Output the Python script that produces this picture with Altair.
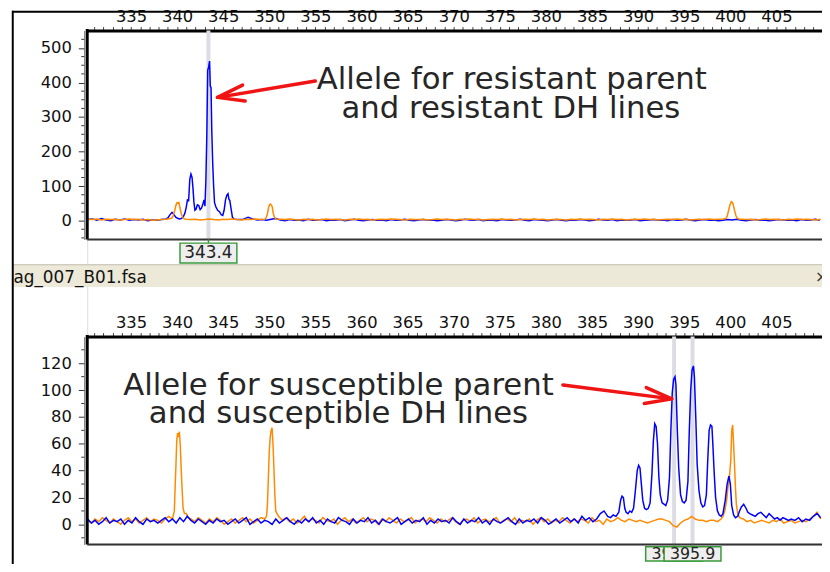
import altair as alt
import pandas as pd

FONT = "DejaVu Sans"

# ---------------- axis / tick data ----------------
X_DOMAIN = [330.253, 409.94]
TOP_Y_DOMAIN = [-54.5, 550.6]
BOT_Y_DOMAIN = [-14.97, 139.9]

x_major_labels = [335, 340, 345, 350, 355, 360, 365, 370, 375, 380, 385, 390, 395, 400, 405]
x_tick_values = list(range(331, 410))
top_y_major = [0, 100, 200, 300, 400, 500]
top_y_minor = [-50, -25, 25, 50, 75, 125, 150, 175, 225, 250, 275, 325, 350, 375, 425, 450, 475, 525]
bot_y_major = [0, 20, 40, 60, 80, 100, 120]
bot_y_minor = [-10, 10, 30, 50, 70, 90, 110, 130]

top_markers = [343.4]
top_marker_labels = ["343.4"]
bot_markers = [393.9, 395.9]
bot_marker_labels = ["393.9", "395.9"]

file_label = "ag_007_B01.fsa"

# ---------------- trace data ----------------
# top panel, blue dye
top_blue_base_a = [3, 5, 1, 6, 2, 0, 4, 2, 5, 1, 3, 2, 4, 0, 2, 1, 3, 5]          # 330.3 .. step 0.5
top_blue_peak_x = [339.0, 339.2, 339.45, 339.65, 339.85, 340.05, 340.25, 340.45, 340.65, 340.85,
                   341.0, 341.12, 341.25, 341.38, 341.5, 341.62, 341.72, 341.82, 341.93, 342.05,
                   342.2, 342.35, 342.5, 342.65, 342.8, 342.92, 343.02, 343.12, 343.22, 343.32,
                   343.42, 343.52, 343.6, 343.68, 343.76, 343.86, 343.96, 344.06, 344.2, 344.4,
                   344.6, 344.78, 344.95, 345.1, 345.25, 345.4, 345.52, 345.62, 345.72, 345.85,
                   346.0, 346.2]
top_blue_peak_y = [8, 16, 24, 18, 10, 7, 5, 6, 10, 22,
                   40, 60, 58, 120, 135, 125, 95, 55, 30, 33,
                   46, 44, 32, 36, 48, 60, 42, 115, 242, 435,
                   445, 462, 390, 385, 262, 167, 100, 52, 40, 30,
                   26, 17, 15, 30, 60, 74, 78, 62, 58, 35,
                   10, 4]
top_blue_base_b = [3, 4, 10, 5, 2, 3, 1, 4, 6, 2,
                   0, 3, 1, 2, 0, 4, 1, 2, 3, 0,
                   2, 1, 3, 0, 2, 4, 1, 0, 2, 3,
                   1, 2, 0, 3, 1, 2, 4, 1, 0, 2,
                   3, 1, 2, 0, 1, 3, 2, 0, 1, 4,
                   2, 1, 3, 0, 2, 1, 0, 3, 2, 1,
                   2, 4, 1, 0, 3, 2, 1, 0, 2, 3,
                   1, 0, 2, 1, 3, 2, 0, 1, 4, 2,
                   1, 3, 0, 2, 1, 2, 3, 0, 1, 2,
                   3, 1, 2, 0, 3, 1, 2, 4, 1, 0,
                   2, 3, 1, 2, 0, 1, 3, 2, 4, 1,
                   0, 2, 3, 1, 2, 0, 1, 3, 2, 1,
                   2, 0, 3, 1, 2, 4, 1]                                         # 346.7 .. step 0.5

# top panel, orange dye
top_orange_base_a = [4, 3, 5, 2, 4, 3, 4, 2, 3, 5, 3, 4, 2, 3, 1, 2, 3, 4, 6]     # 330.3 .. step 0.5
top_orange_p1_x = [339.45, 339.6, 339.75, 339.88, 340.0, 340.1, 340.2, 340.3, 340.45, 340.6, 340.75, 340.9]
top_orange_p1_y = [8, 15, 30, 45, 52, 50, 52, 38, 20, 10, 6, 4]
top_orange_base_b = [3, 4, 2, 3, 5, 3, 2, 4, 3, 5, 3, 2, 4, 3, 5, 3, 4]           # 341.5 .. step 0.5
top_orange_p2_x = [349.65, 349.8, 349.92, 350.02, 350.12, 350.22, 350.32, 350.42, 350.55, 350.7]
top_orange_p2_y = [8, 20, 38, 46, 48, 45, 40, 22, 10, 5]
top_orange_base_c = [4, 3, 5, 3, 2, 4, 3, 4, 2, 3,
                     5, 3, 4, 3, 2, 4, 3, 5, 3, 4,
                     2, 3, 4, 3, 5, 4, 3, 2, 4, 3,
                     3, 4, 2, 3, 5, 3, 4, 3, 2, 4,
                     3, 5, 3, 4, 2, 3, 4, 3, 5, 3,
                     4, 2, 3, 4, 3, 5, 3, 4, 2, 3,
                     4, 3, 2, 4, 3, 5, 3, 4, 3, 2,
                     4, 3, 5, 3, 4, 2, 3, 4, 3, 5,
                     3, 4, 2, 3, 4, 3, 5, 3, 4, 2,
                     3, 4, 3, 5, 3, 4, 5]                                       # 351.2 .. step 0.5
top_orange_p3_x = [399.5, 399.65, 399.8, 399.95, 400.1, 400.2, 400.3, 400.45, 400.6, 400.75, 400.9]
top_orange_p3_y = [6, 12, 28, 45, 55, 53, 48, 30, 15, 7, 5]
top_orange_base_d = [4, 3, 4, 2, 3, 5, 3, 4, 3, 2, 4, 3, 5, 3, 4, 3, 2, 4]        # 401.3 .. step 0.5

# bottom panel, orange dye
bot_orange_base_a = [3, 1, 4, 2, 5, 3, 1, 4, 2, 0, 3, 5, 2, 4, 1, 3, 5, 2, 4, 3, 1, 4, 6, 4]   # 330.3 .. step 0.4
bot_orange_p1_x = [339.7, 339.8, 339.88, 339.96, 340.05, 340.15, 340.25, 340.35, 340.45, 340.55, 340.65, 340.8, 341.0, 341.2]
bot_orange_p1_y = [10, 30, 45, 62, 68, 65, 69, 58, 40, 25, 12, 8, 8, 5]
bot_orange_base_b = [4, 2, 5, 3, 1, 4, 2, 5, 3, 0, 2, 4, 1, 3, 5, 2, 4, 1, 3, 5, 4]          # 341.5 .. step 0.4
bot_orange_p2_x = [349.7, 349.8, 349.9, 350.0, 350.1, 350.2, 350.3, 350.4, 350.5, 350.6, 350.7, 350.85, 351.0]
bot_orange_p2_y = [6, 15, 35, 55, 65, 70, 72, 60, 42, 22, 10, 8, 6]
bot_orange_base_c = [3, 5, 2, 4, 1, 3, 6, 2, 4, 3, 1, 5, 3, 2, 4, 0, 3, 5, 2, 4,
                     1, 3, 5, 2, 4, 3, 0, 4, 2, 5, 3, 1, 4, 2, 3, 5, 1, 3, 4, 2,
                     5, 3, 1, 4, 2, 3, 5, 2, 0, 3, 4, 2, 5, 1, 3, 4, 2, 3, 5, 1,
                     3, 4, 2, 5, 1, 3, 2, 4, 0, 3, 5, 2, 4, 1, 3, 2, 5, 3, 1, 4,
                     2, 4, 3, 1, 5, 2, 3, 0, 4, 2, 3, 5, 3, 2, 4, 3, 2, 3, 2, 1,
                     2, 3, 4, 4, 3, 2, -1, -2, 1, 3, 4, 6, 4, 3, 3, 2, 3, 3, 2, 4]  # 351.4 .. step 0.4
bot_orange_p3_x = [399.2, 399.4, 399.6, 399.75, 399.9, 400.05, 400.15, 400.25, 400.35, 400.45, 400.55, 400.65, 400.8, 401.0]
bot_orange_p3_y = [6, 10, 18, 28, 35, 48, 70, 74, 60, 45, 28, 15, 8, 5]
bot_orange_base_d = [4, 2, 3, 1, 2, 3, 2, 1, 3, 2, 4, 1, 2, 3, 1, 2, 3, 2, 4, 6, 9, 4]      # 401.4 .. step 0.4

# bottom panel, blue dye
bot_blue_base_a = [4, 1, 3, 0, 2, 5, 1, 3, 2, 4, 0, 3, 1, 5, 2, 0, 4, 2, 3, 1,
                   3, 5, 2, 4, 1, 5, 2, 6, 3, 1, 4, 2, 0, 3, 1, 4, 2, 3, 0, 2,
                   4, 1, 3, 5, 0, 2, 4, 1, 3, 2, 0, 4, 1, 3, 5, 2, 0, 3, 1, 4,
                   2, 5, 1, 3, 0, 4, 2, 1, 5, 3, 2, 0, 4, 1, 3, 2, 5, 1, 3, 0,
                   4, 2, 1, 3, 5, 0, 2, 4, 1, 3, 2, 5, 0, 3, 1, 4, 2, 3, 1, 5,
                   2, 0, 4, 1, 3, 2, 5, 1, 3, 0, 4, 2, 1, 3, 5, 2, 0, 4, 1, 3,
                   2, 4, 1, 5, 3, 0, 2, 4, 1, 3, 5, 2, 4, 1, 6, 3, 5, 2, 4, 8,
                   10, 6]                                                        # 330.3 .. step 0.4
bot_blue_peak_x = [387.0, 387.3, 387.6, 387.9, 388.1, 388.25, 388.4, 388.55, 388.7, 388.9,
                   389.1, 389.3, 389.5, 389.7, 389.9, 390.05, 390.2, 390.35, 390.5, 390.7,
                   390.9, 391.1, 391.3, 391.5, 391.65, 391.8, 391.95, 392.1, 392.25, 392.4,
                   392.6, 392.8, 393.0, 393.2, 393.4, 393.55, 393.7, 393.85, 394.0, 394.1,
                   394.25, 394.4, 394.6, 394.8, 395.0, 395.2, 395.4, 395.55, 395.7, 395.85,
                   396.0, 396.1, 396.25, 396.4, 396.6, 396.8, 397.0, 397.2, 397.4, 397.55,
                   397.7, 397.85, 398.0, 398.1, 398.25, 398.4, 398.6, 398.8, 399.0, 399.2,
                   399.45, 399.65, 399.85, 400.0, 400.15, 400.35, 400.55, 400.8, 401.0, 401.2,
                   401.45, 401.7, 401.9, 402.1, 402.4, 402.7, 403.0, 403.3, 403.6, 403.9,
                   404.2, 404.5, 404.8, 405.1, 405.4, 405.7, 406.0, 406.3]
bot_blue_peak_y = [5, 7, 6, 9, 18, 21, 20, 12, 9, 8,
                   10, 9, 12, 25, 40, 44, 42, 30, 18, 12,
                   11, 12, 16, 38, 62, 75, 73, 60, 35, 22,
                   16, 15, 14, 18, 35, 70, 98, 108, 110, 104,
                   70, 42, 22, 17, 16, 18, 32, 70, 100, 115,
                   118, 110, 80, 45, 25, 16, 13, 14, 22, 48,
                   70, 74, 73, 60, 38, 20, 10, 7, 6, 8,
                   18, 30, 36, 30, 14, 7, 5, 6, 10, 13,
                   15, 12, 9, 8, 7, 6, 8, 9, 7, 5,
                   8, 6, 4, 5, 3, 5, 4, 3]
bot_blue_base_b = [4, 3, 5, 2, 4, 3, 6, 8, 5]                                   # 406.6 .. step 0.4


def grid(start, step, values):
    return [round(start + i * step, 3) for i in range(len(values))], list(values)


def build(parts):
    xs, ys = [], []
    for px, py in parts:
        assert len(px) == len(py)
        xs += px
        ys += py
    return pd.DataFrame({"x": xs, "y": ys})


top_blue = build([grid(330.3, 0.5, top_blue_base_a), (top_blue_peak_x, top_blue_peak_y),
                  grid(346.7, 0.5, top_blue_base_b)])
top_orange = build([grid(330.3, 0.5, top_orange_base_a), (top_orange_p1_x, top_orange_p1_y),
                    grid(341.5, 0.5, top_orange_base_b), (top_orange_p2_x, top_orange_p2_y),
                    grid(351.2, 0.5, top_orange_base_c), (top_orange_p3_x, top_orange_p3_y),
                    grid(401.3, 0.5, top_orange_base_d)])
bot_orange = build([grid(330.3, 0.4, bot_orange_base_a), (bot_orange_p1_x, bot_orange_p1_y),
                    grid(341.5, 0.4, bot_orange_base_b), (bot_orange_p2_x, bot_orange_p2_y),
                    grid(351.4, 0.4, bot_orange_base_c), (bot_orange_p3_x, bot_orange_p3_y),
                    grid(401.4, 0.4, bot_orange_base_d)])
bot_blue = build([grid(330.3, 0.4, bot_blue_base_a), (bot_blue_peak_x, bot_blue_peak_y),
                  grid(406.6, 0.4, bot_blue_base_b)])

# annotation placement (data units)
top_notes = pd.DataFrame({"text": ["Allele for resistant parent", "and resistant DH lines"],
                          "x": [376.3, 376.2], "y": [407, 323]})
bot_notes = pd.DataFrame({"text": ["Allele for susceptible parent", "and susceptible DH lines"],
                          "x": [357.5, 357.5], "y": [103.3, 82.4]})
top_arrow = pd.DataFrame({"x1": [354.99], "y1": [404.4], "x2": [344.38], "y2": [357.0], "angle": [170.7]})
bot_arrow = pd.DataFrame({"x1": [381.84], "y1": [103.8], "x2": [393.65], "y2": [93.45], "angle": [7.2]})

# ---------------- layout / styling ----------------
W, H = 742, 519                 # whole drawing area (both panels)
TOP_Y0, TOP_Y1 = 0, 211         # pixel extent of the upper plot inside the area
BOT_Y0, BOT_Y1 = 309, 519       # pixel extent of the lower plot
BLUE, ORANGE, RED = "#0000ff", "#ff8a00", "#f01414"
CHEVRON = "M-1.2,-0.36L0,0L-1.2,0.36"
one = pd.DataFrame({"k": [1]})


def x_axis(top_px):
    return alt.Axis(orient="top", offset=-top_px, values=x_tick_values, format="d",
                    labelExpr="datum.value % 5 === 0 ? datum.label : ''",
                    tickSize=4, tickColor="#444", tickWidth=1,
                    domainColor="#000", domainWidth=3,
                    labelFont=FONT, labelFontSize=16.5, labelColor="#111",
                    labelPadding=2, labelOverlap=False, labelFlush=False,
                    grid=False, title=None)


def y_axis(vals):
    return alt.Axis(orient="left", values=vals, format="d", offset=3, tickSize=6, tickColor="#333",
                    domainColor="#666", domainWidth=1,
                    labelFont=FONT, labelFontSize=16.5, labelColor="#111",
                    labelPadding=7, labelOverlap=False, grid=False, title=None)


def panel(first, second, first_color, second_color, ydomain, y0, y1, ymajor, yminor,
          notes, arrow, markers, marker_labels, box_y, box_h, box_font):
    xs = alt.Scale(domain=X_DOMAIN, range=[0, W], nice=False, zero=False)
    ys = alt.Scale(domain=ydomain, range=[y1, y0], nice=False, zero=False)

    def X(f="x", axis=None):
        return alt.X(f + ":Q", scale=xs, axis=axis)

    def Y(f="y", axis=None):
        return alt.Y(f + ":Q", scale=ys, axis=axis)

    box_w = 57.4
    box_path = "M-1,-{h:.4f}L1,-{h:.4f}L1,{h:.4f}L-1,{h:.4f}Z".format(h=box_h / box_w)
    layers = [
        alt.Chart(pd.DataFrame({"x": markers})).mark_rule(color="#dcdce4", strokeWidth=4).encode(
            x=X(), y=alt.value(y0), y2=alt.value(y1)),
        alt.Chart(first).mark_line(color=first_color, strokeWidth=1.5).encode(
            x=X(axis=x_axis(y0)), y=Y(axis=y_axis(ymajor))),
        alt.Chart(second).mark_line(color=second_color, strokeWidth=1.5).encode(x=X(), y=Y()),
        # minor ticks of the left axis
        alt.Chart(pd.DataFrame({"y": yminor})).mark_rule(color="#333", strokeWidth=1).encode(
            x=alt.value(-6), x2=alt.value(-3), y=Y()),
        # frame
        alt.Chart(one).mark_rule(color="#000", strokeWidth=3).encode(
            x=alt.value(0), y=alt.value(y0 - 1.5), y2=alt.value(y1)),
        alt.Chart(one).mark_rule(color="#333", strokeWidth=2).encode(
            x=alt.value(0), x2=alt.value(W), y=alt.value(y1)),
        # annotations
        alt.Chart(notes).mark_text(font=FONT, fontSize=31, color="#262626",
                                   align="center", baseline="middle").encode(x=X(), y=Y(), text="text:N"),
        alt.Chart(arrow).mark_rule(color=RED, strokeWidth=3.5, strokeCap="round").encode(
            x=X("x1"), y=Y("y1"), x2="x2:Q", y2="y2:Q"),
        alt.Chart(arrow).mark_point(shape=CHEVRON, filled=False, stroke=RED, strokeWidth=3.5,
                                    size=2025, opacity=1, strokeCap="round", strokeJoin="round").encode(
            x=X("x2"), y=Y("y2"), angle=alt.Angle("angle:Q", scale=None)),
    ]
    for v, lab in zip(markers, marker_labels):
        d = alt.Chart(pd.DataFrame({"x": [v], "label": [lab]}))
        layers += [
            d.mark_rule(color="#2e9a2e", strokeWidth=1.5).encode(
                x=X(), y=alt.value(y1), y2=alt.value(box_y - box_h / 2)),
            d.mark_point(shape=box_path, filled=True, fill="#eeeeee", stroke="#3a9a3a",
                         strokeWidth=1.5, size=box_w ** 2, opacity=1).encode(x=X(), y=alt.value(box_y)),
            d.mark_text(font=FONT, fontSize=box_font, color="#222", baseline="middle").encode(
                x=X(), y=alt.value(box_y), text="label:N"),
        ]
    return layers


# window decorations (pixel offsets from the upper plot's corner)
decor = [
    alt.Chart(one).mark_rect(color="#ece9d8").encode(
        x=alt.value(-75), x2=alt.value(W), y=alt.value(237), y2=alt.value(259)),
    alt.Chart(one).mark_rule(color="#cfcbbd", strokeWidth=1.5).encode(
        x=alt.value(-75), x2=alt.value(W), y=alt.value(236.5)),
    alt.Chart(one).mark_text(align="left", baseline="middle", font=FONT, fontSize=17, color="#111").encode(
        x=alt.value(-74.5), y=alt.value(250), text=alt.value(file_label)),
    alt.Chart(one).mark_text(align="left", baseline="middle", font=FONT, fontSize=16, color="#333").encode(
        x=alt.value(735), y=alt.value(249), text=alt.value("\u00d7")),
    alt.Chart(one).mark_rule(color="#000", strokeWidth=2).encode(
        x=alt.value(-75.2), y=alt.value(-20), y2=alt.value(540)),
    alt.Chart(one).mark_rule(color="#000", strokeWidth=2).encode(
        x=alt.value(-76), x2=alt.value(W), y=alt.value(-19)),
]

layers = decor
layers += panel(top_blue, top_orange, BLUE, ORANGE, TOP_Y_DOMAIN, TOP_Y0, TOP_Y1,
                top_y_major, top_y_minor, top_notes, top_arrow, top_markers, top_marker_labels,
                224.7, 20, 17)
layers += panel(bot_orange, bot_blue, ORANGE, BLUE, BOT_Y_DOMAIN, BOT_Y0, BOT_Y1,
                bot_y_major, bot_y_minor, bot_notes, bot_arrow, bot_markers, bot_marker_labels,
                528.6, 14.4, 16)

chart = alt.layer(*layers).resolve_scale(x="independent", y="independent").properties(
    width=W, height=H,
    padding={"left": 80, "top": 20, "right": 0, "bottom": 17},
    autosize=alt.AutoSizeParams(type="none"),
).configure_view(stroke=None).configure(font=FONT)

chart.save("out.html", embed_options={"renderer": "svg", "actions": False})
